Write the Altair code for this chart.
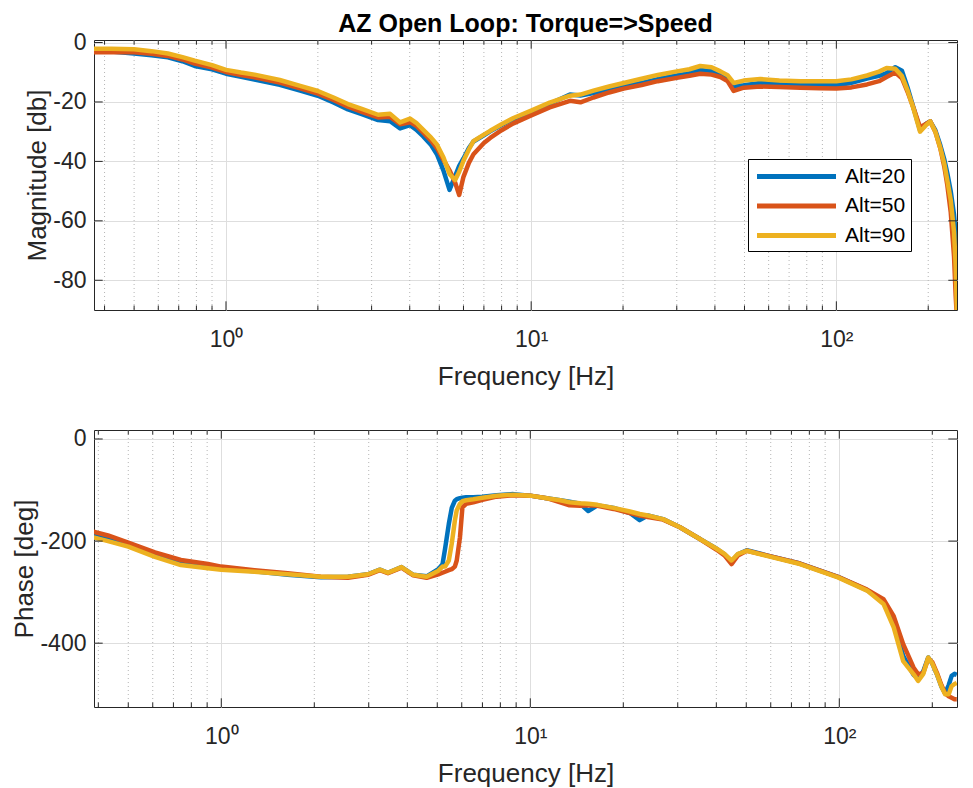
import altair as alt
import pandas as pd

TITLE = "AZ Open Loop: Torque=>Speed"
SERIES = ["Alt=20", "Alt=50", "Alt=90"]
COLORS = ["#0072BD", "#D95319", "#EDB120"]

# ---- magnitude panel ----
MAG_FREQ = [0.358, 0.42, 0.5, 0.57, 0.645, 0.72, 0.79, 0.9, 1.0, 1.12,
            1.24, 1.5, 1.75, 2.0, 2.25, 2.51, 2.8, 3.15, 3.45, 3.72,
            4.01, 4.2, 4.43, 4.7, 4.91, 5.16, 5.4, 5.63, 5.81, 6.0,
            6.25, 6.47, 7.0, 7.34, 8.0, 8.75, 10.0, 11.5, 13.4, 14.5,
            16.0, 18.0, 20.1, 23.0, 26.0, 30.0, 33.0, 35.8, 39.0, 41.7,
            44.0, 46.1, 49.7, 56.3, 65.0, 76.3, 88.0, 100.0, 112.0, 126.0,
            138.0, 146.0, 156.0, 164.0, 171.0, 179.0, 188.0, 196.0, 203.0, 211.0,
            219.0, 226.0, 231.0, 237.0, 243.0, 246.0, 249.0]
MAG_ALT20 = [-2.8, -3.0, -3.7, -4.3, -5.0, -6.3, -7.9, -9.0, -10.5, -11.5,
             -12.5, -14.2, -16.2, -17.9, -20.2, -22.5, -24.2, -26.1, -26.5, -28.9,
             -27.8, -29.3, -31.6, -34.5, -37.6, -43.1, -49.6, -45.0, -41.5, -39.0,
             -35.5, -33.3, -31.2, -29.9, -27.8, -25.7, -23.3, -20.6, -17.5, -17.8,
             -17.0, -15.8, -14.7, -13.6, -12.3, -11.1, -10.3, -9.2, -9.6, -10.5,
             -12.0, -14.7, -14.4, -13.6, -14.0, -14.1, -14.3, -14.3, -13.6, -12.1,
             -11.2, -10.3, -8.3, -9.5, -15.0, -22.0, -29.5, -27.5, -26.5, -29.5,
             -34.5, -39.5, -44.0, -50.0, -58.0, -65.0, -72.0]
MAG_ALT50 = [-3.3, -3.3, -3.3, -3.8, -4.5, -5.7, -7.1, -8.4, -9.9, -10.9,
             -11.7, -13.5, -15.4, -17.2, -19.3, -21.6, -23.4, -25.2, -25.0, -27.5,
             -26.8, -28.0, -30.3, -33.0, -35.5, -39.5, -43.0, -47.0, -51.3, -45.2,
             -40.5, -37.6, -33.8, -32.1, -29.5, -27.2, -24.5, -21.8, -19.6, -20.1,
             -18.5, -16.8, -15.5, -14.3, -13.0, -11.9, -11.2, -10.5, -10.8, -11.6,
             -13.0, -16.3, -15.2, -14.8, -15.0, -15.2, -15.4, -15.5, -15.1, -14.1,
             -13.0, -11.6, -10.1, -12.0, -16.5, -22.0, -28.5, -27.5, -26.5, -30.0,
             -35.5, -42.0, -48.0, -57.0, -72.0, -85.0, -95.0]
MAG_ALT90 = [-2.1, -2.1, -2.3, -2.9, -3.7, -4.9, -6.1, -7.6, -9.2, -10.1,
             -10.8, -12.6, -14.6, -16.3, -18.5, -20.7, -22.4, -24.3, -24.0, -26.9,
             -25.6, -27.0, -29.4, -32.0, -34.3, -38.7, -44.2, -46.3, -43.5, -39.8,
             -36.0, -33.2, -31.0, -29.7, -27.5, -25.4, -22.9, -20.2, -17.9, -17.5,
             -16.2, -14.8, -13.6, -12.2, -10.9, -9.7, -9.0, -7.9, -8.3, -9.7,
             -11.0, -13.6, -12.8, -12.3, -12.8, -13.0, -13.0, -13.0, -12.4, -11.1,
             -9.8, -8.6, -8.8, -11.3, -16.0, -22.3, -30.0, -28.0, -26.5, -30.0,
             -35.4, -41.0, -46.4, -53.0, -63.8, -75.0, -95.0]

# ---- phase panel ----
PH_FREQ = [0.376, 0.43, 0.5, 0.61, 0.74, 0.906, 1.0, 1.28, 1.64, 2.1,
           2.57, 2.98, 3.26, 3.46, 3.83, 4.18, 4.62, 5.04, 5.2, 5.3,
           5.45, 5.57, 5.7, 5.78, 5.92, 6.03, 6.2, 6.54, 7.0, 7.78,
           8.81, 10.0, 11.3, 12.5, 13.4, 14.5, 15.4, 16.5, 18.6, 21.0,
           22.6, 24.0, 26.9, 30.5, 35.4, 40.1, 42.5, 44.8, 47.0, 50.2,
           58.2, 74.6, 99.0, 123.0, 139.0, 150.0, 161.0, 174.0, 180.0, 187.0,
           194.0, 200.0, 207.0, 214.0, 220.0, 226.0, 231.0, 236.0, 240.0]
PH_ALT20 = [-183, -193, -205, -225, -241, -249, -253, -259, -266, -271,
            -270, -265, -256, -262, -251, -266, -269, -255, -245, -215,
            -166, -135, -121, -118, -116, -115, -114, -114, -113, -110,
            -108, -111, -116, -120, -123, -127, -141, -130, -135, -145,
            -159, -150, -157, -173, -196, -215, -226, -240, -226, -218,
            -228, -244, -270, -296, -318, -358, -425, -462, -470, -455,
            -428, -440, -461, -485, -498, -482, -464, -460, -462]
PH_ALT50 = [-180, -189, -203, -222, -237, -245, -250, -257, -263, -270,
            -272, -266, -257, -263, -252, -267, -272, -265, -262, -260,
            -257, -255, -250, -238, -193, -134, -127, -124, -119, -113,
            -110, -111, -116, -124, -130, -131, -130, -131, -137, -145,
            -150, -153, -158, -173, -196, -217, -228, -245, -228, -219,
            -228, -244, -270, -295, -314, -347, -402, -448, -461, -458,
            -430, -437, -458, -482, -498, -504, -507, -510, -510]
PH_ALT90 = [-191, -200, -211, -231, -247, -253, -256, -260, -265, -270,
            -270, -265, -256, -262, -251, -266, -270, -258, -250, -250,
            -238, -205, -160, -140, -127, -122, -120, -118, -115, -111,
            -109, -111, -116, -120, -124, -126, -127, -129, -135, -142,
            -147, -150, -157, -173, -196, -215, -225, -238, -225, -219,
            -229, -245, -271, -297, -323, -369, -435, -461, -474, -460,
            -428, -440, -461, -485, -500, -500, -484, -480, -478]

# ---- axes ----
MAJOR_X = [1, 10, 100]
X_TICK_LABELS = ["10⁰", "10¹", "10²"]
MINOR_X = [0.4, 0.5, 0.6, 0.7, 0.8, 0.9, 2, 3, 4, 5, 6, 7, 8, 9,
           20, 30, 40, 50, 60, 70, 80, 90, 200]
MAG_TICKS = [-80, -60, -40, -20, 0]
PH_TICKS = [-400, -200, 0]
MAG_X_DOMAIN = [0.3694, 248.5]
PH_X_DOMAIN = [0.3873, 240.4]
MAG_Y_DOMAIN = [-90, 0.85]
PH_Y_DOMAIN = [-525, 17.6]

W = 863
H_TOP, H_BOTTOM = 270, 277
MAJOR_LEN, MINOR_LEN = 8.7, 4.5
FONT = "Liberation Sans"
TEXT = "#262626"


def long_df(freq, series_values):
    rows = []
    for name, vals in zip(SERIES, series_values):
        for f, v in zip(freq, vals):
            rows.append({"freq": f, "value": v, "series": name})
    return pd.DataFrame(rows)


label_expr = ""
for v, lab in zip(MAJOR_X[:-1], X_TICK_LABELS[:-1]):
    label_expr += f"datum.value == {v} ? '{lab}' : "
label_expr += f"'{X_TICK_LABELS[-1]}'"


def panel(df, x_dom, y_dom, y_ticks, y_title, legend, h):
    xs = alt.Scale(type="log", domain=x_dom, nice=False)
    ys = alt.Scale(domain=y_dom, nice=False, zero=False)
    xaxis = alt.Axis(values=MAJOR_X, labelExpr=label_expr, title="Frequency [Hz]",
                     grid=True, ticks=False, domain=False, labelPadding=18,
                     titlePadding=12, labelFlush=False)
    yaxis = alt.Axis(values=y_ticks, title=y_title, grid=True, ticks=False,
                     domain=False, labelPadding=8, titlePadding=2,
                     labelExpr="'' + datum.value")
    x_enc = alt.X("freq:Q", scale=xs, axis=xaxis)
    y_enc = alt.Y("value:Q", scale=ys, axis=yaxis)
    minor_df = pd.DataFrame({"freq": MINOR_X})
    major_df = pd.DataFrame({"freq": MAJOR_X})
    ytick_df = pd.DataFrame({"value": y_ticks})

    minor = alt.Chart(minor_df).mark_rule(
        color="#b5b5b5", strokeDash=[1, 3], strokeWidth=1
    ).encode(x=x_enc)

    tick_layers = []
    for dfx, ln in ((minor_df, MINOR_LEN), (major_df, MAJOR_LEN)):
        tick_layers.append(alt.Chart(dfx).mark_rule(color=TEXT, strokeWidth=1).encode(
            x=x_enc, y=alt.value(0), y2=alt.value(ln)))
        tick_layers.append(alt.Chart(dfx).mark_rule(color=TEXT, strokeWidth=1).encode(
            x=x_enc, y=alt.value(h), y2=alt.value(h - ln)))
    tick_layers.append(alt.Chart(ytick_df).mark_rule(color=TEXT, strokeWidth=1).encode(
        y=y_enc, x=alt.value(0), x2=alt.value(MAJOR_LEN)))
    tick_layers.append(alt.Chart(ytick_df).mark_rule(color=TEXT, strokeWidth=1).encode(
        y=y_enc, x=alt.value(W), x2=alt.value(W - MAJOR_LEN)))

    cscale = alt.Scale(domain=SERIES, range=COLORS)
    layers = [minor]
    for s in SERIES:
        layers.append(
            alt.Chart(df).transform_filter(alt.datum.series == s)
            .mark_line(strokeWidth=4.5, clip=True, strokeJoin="round")
            .encode(
                x=x_enc,
                y=y_enc,
                color=alt.Color("series:N", scale=cscale, legend=legend),
            )
        )
    layers += tick_layers
    return alt.layer(*layers).properties(width=W, height=h)


legend = alt.Legend(
    title=None, orient="none", legendX=654, legendY=119,
    symbolType="M-4,0H4", symbolSize=390, symbolStrokeWidth=5,
    symbolOffset=31, labelOffset=36, labelFontSize=21, labelFont=FONT,
    labelColor="black", padding=5, rowPadding=6.5,
    strokeColor="black", fillColor="white", cornerRadius=0,
)

mag_df = long_df(MAG_FREQ, [MAG_ALT20, MAG_ALT50, MAG_ALT90])
ph_df = long_df(PH_FREQ, [PH_ALT20, PH_ALT50, PH_ALT90])

top = panel(mag_df, MAG_X_DOMAIN, MAG_Y_DOMAIN, MAG_TICKS, "Magnitude [db]", legend, H_TOP).properties(
    title=alt.TitleParams(TITLE, fontSize=25, font=FONT, fontWeight="bold",
                          color="black", offset=-5, anchor="middle", frame="group")
)
bottom = panel(ph_df, PH_X_DOMAIN, PH_Y_DOMAIN, PH_TICKS, "Phase [deg]", None, H_BOTTOM)

chart = (
    alt.vconcat(top, bottom, spacing=37)
    .resolve_scale(x="independent", y="independent", color="independent")
    .properties(padding={"left": 3, "top": 3, "right": 6, "bottom": 0})
    .configure_view(stroke=TEXT, strokeWidth=1)
    .configure_axis(labelFont=FONT, titleFont=FONT, labelFontSize=23, titleFontSize=26,
                    labelColor=TEXT, titleColor=TEXT, gridColor="#dedede", gridWidth=1,
                    titleFontWeight="normal")
)

chart.save("out.html", embed_options={"renderer": "svg", "actions": False})
